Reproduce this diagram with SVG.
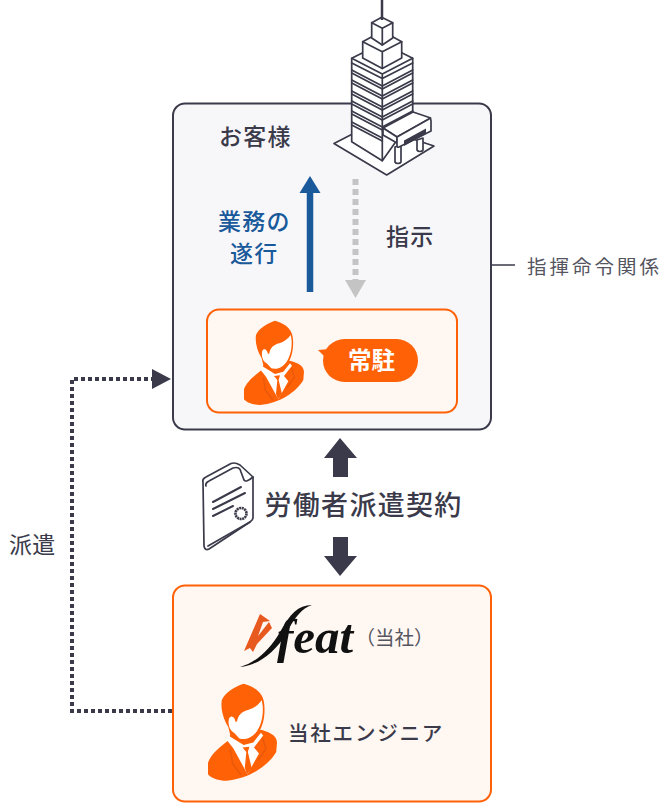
<svg xmlns="http://www.w3.org/2000/svg" width="670" height="804" viewBox="0 0 670 804">
<style>
text{font-family:"Noto Sans CJK JP","Noto Sans",sans-serif;fill:#3a3a4a}
.b{font-weight:700}
.m{font-weight:500}
.ln{fill:#fff;stroke:#3a3a4a;stroke-width:1.7;stroke-linejoin:round;stroke-linecap:round}
.l2{fill:none;stroke:#3a3a4a;stroke-width:1.7;stroke-linecap:round;stroke-linejoin:round}
.o{fill:#ff6106}
</style>
<defs>
<g id="person">
<path class="o" d="M225 62C250 68 275 85 278 110C282 135 278 165 268 182C285 185 312 195 312 215L310 240C290 275 240 310 180 315C160 315 140 308 132 298L132 268C140 245 165 225 185 210L190 195L185 175C170 150 165 125 168 105C175 85 205 68 225 62Z"/>
<path fill="#fff" d="M272 105C279 130 274 165 260 185C246 205 228 209 214 205L200 190C188 184 183 165 187 152C194 142 202 150 204 162L208 160C210 145 220 134 238 130C252 126 264 116 272 105Z"/>
<path fill="#fff" d="M185 197L225 222L250 215L270 190L276 197L252 228L265 244L235 298L198 230L182 210Z"/>
<path class="o" d="M222 228L240 226L236 240L246 282L234 298L228 282L232 240Z"/>
<path fill="none" stroke="#e8590c" stroke-width="4" d="M190 232L196 270L218 300M275 205L283 232L262 262"/>
</g>
</defs>
<g id="client">
<rect x="173" y="103.500" width="318" height="326" rx="12" fill="#f7f7fa" stroke="#3a3a4a" stroke-width="2"/>
<text class="m" x="219" y="145" font-size="23" letter-spacing="1.300">お客様</text>
</g>
<g id="building">
<path class="ln" d="M334 143.500L370 125L434 146L386.700 175Z"/>
<path class="ln" d="M351.700 58.300L382.300 43L412.700 58.300V118L382.300 160.700L351.700 141.700Z"/>
<path class="ln" d="M351.700 58.300L382.300 74L412.700 58.300M351.700 63L382.300 78.500L412.700 63M382.300 74V160.700"/>
<g class="l2">
<path d="M351.700 70L382.300 86L412.700 70M351.700 73L382.300 89L412.700 73"/>
<path d="M351.700 80L382.300 96L412.700 80M351.700 83L382.300 99L412.700 83"/>
<path d="M351.700 91L382.300 107L412.700 91M351.700 94L382.300 110L412.700 94"/>
<path d="M351.700 101L382.300 117L412.700 101M351.700 104L382.300 120L412.700 104"/>
<path d="M351.700 111L382.300 127L412.700 111M351.700 114L382.300 130L398 122"/>
<path d="M351.700 122L382.300 138M351.700 125L382.300 141"/>
</g>
<path class="ln" d="M362.700 41.700L382.300 31L401.700 41.700V58L382.300 68.500L362.700 58Z"/>
<path class="l2" d="M362.700 41.700L382.300 51.700L401.700 41.700M382.300 51.700V68.500"/>
<path class="ln" d="M371.700 22.700L381.700 17.300L392.700 22.700V38L382.300 45L371.700 38Z"/>
<path class="l2" d="M371.700 22.700L382.300 28.300L392.700 22.700M382.300 28.300V45"/>
<path d="M382 0V20" stroke="#3a3a4a" stroke-width="2.500"/>
<path class="ln" d="M383 128L413 112L430.700 118L397 137Z"/>
<path class="ln" d="M383 128L397 137V143L383 135Z"/>
<path class="ln" d="M417 140V150C418 152 422 152 423 150V138ZM395 147V162C396 164 400 164 401 162V145Z"/>
<path class="ln" d="M397 137L429 119Q431 118 431 121V131L399 147Q397 148 397 145Z"/>
<path d="M404 140.500L426 128.500V134L404 146Z" fill="#3a3a4a"/>
</g>
<g id="resident">
<rect x="207" y="309.500" width="250" height="103" rx="12" fill="#fff7f2" stroke="#ff6106" stroke-width="2"/>
<use href="#person" transform="translate(200 300) scale(.3333)"/>
<rect x="323" y="339" width="95" height="43" rx="21.500" class="o"/>
<path class="o" d="M318 350L330 349L326 358Z"/>
<text class="b" x="348" y="369" font-size="23.500" style="fill:#fff">常駐</text>
</g>
<g id="feat">
<rect x="173" y="585.500" width="318" height="216" rx="12" fill="#fff7f2" stroke="#ff6106" stroke-width="2"/>
<path fill="#e8591f" d="M260 614L270 621L263 622L258 636L269 622L272 628L257 644L253 652L250 648L244 651Z"/>
<path d="M240 667C255 663 270 650 280 632C290 614 298 605 312 605C302 608 294 618 286 634C274 654 256 666 240 667Z" fill="#111"/>
<text x="277" y="653" font-size="49" font-style="italic" font-weight="700" style="font-family:'Liberation Serif',serif;fill:#111">feat</text>
<text x="355.500" y="645" font-size="19.500" style="fill:#55555f">（当社）</text>
</g>
<g id="engineer">
<use href="#person" transform="translate(157.400 660) scale(.3833)"/>
<text class="m" x="288" y="741" font-size="20.500" letter-spacing="1.800">当社エンジニア</text>
</g>
<g id="contract">
<path class="ln" d="M203 482Q202 479 206 477L231 463.500Q235 462 240 465L253 477V518Q253 520 250 522L209 549Q205 551 204 546Z"/>
<path class="l2" d="M206 486Q205 483 209 481L233 468Q240 466 241 472L244 480Q246 483 253 477M250 522L208 546"/>
<g stroke="#3a3a4a" stroke-width="2" stroke-linecap="round">
<path d="M213 502L241 487M213 509L245 493M213 516L233 506"/>
</g>
<circle cx="241" cy="513.500" r="5.500" fill="none" stroke="#3a3a4a" stroke-width="2.600" stroke-dasharray="2 .6"/>
<text class="m" x="264.500" y="515" font-size="27" letter-spacing="1.300">労働者派遣契約</text>
</g>
<g id="connectors">
<path d="M172 711H72V379H154" fill="none" stroke="#3a3a4a" stroke-width="4" stroke-dasharray="4 3"/>
<path d="M152 369L171 379L152 389Z" fill="#3a3a4a"/>
<path d="M491 265H515" stroke="#3a3a4a" stroke-width="1.500"/>
<path d="M310 292V190" stroke="#1a5a9a" stroke-width="6.500" fill="none"/>
<path d="M310 176L320.500 193H299.500Z" fill="#1a5a9a"/>
<path d="M355.500 179V280" stroke="#c4c4c4" stroke-width="6" stroke-dasharray="6 4" fill="none"/>
<path d="M345 280H366L355.500 298Z" fill="#c4c4c4"/>
<path d="M340 438L357 458H348V477H333V458H324Z" fill="#3a3a4a"/>
<path d="M333 537H348V556H357L340 576L324 556H333Z" fill="#3a3a4a"/>
</g>
<g id="labels">
<text class="m" x="218" y="230" font-size="23" letter-spacing="1.300" style="fill:#1a5a9a">業務の</text>
<text class="m" x="230" y="262" font-size="23" letter-spacing="1.300" style="fill:#1a5a9a">遂行</text>
<text class="m" x="386" y="245" font-size="23" letter-spacing="1.300">指示</text>
<text x="9" y="553" font-size="23" letter-spacing=".3">派遣</text>
<text x="527" y="274" font-size="19.500" letter-spacing="3" style="fill:#55555f">指揮命令関係</text>
</g>
</svg>
